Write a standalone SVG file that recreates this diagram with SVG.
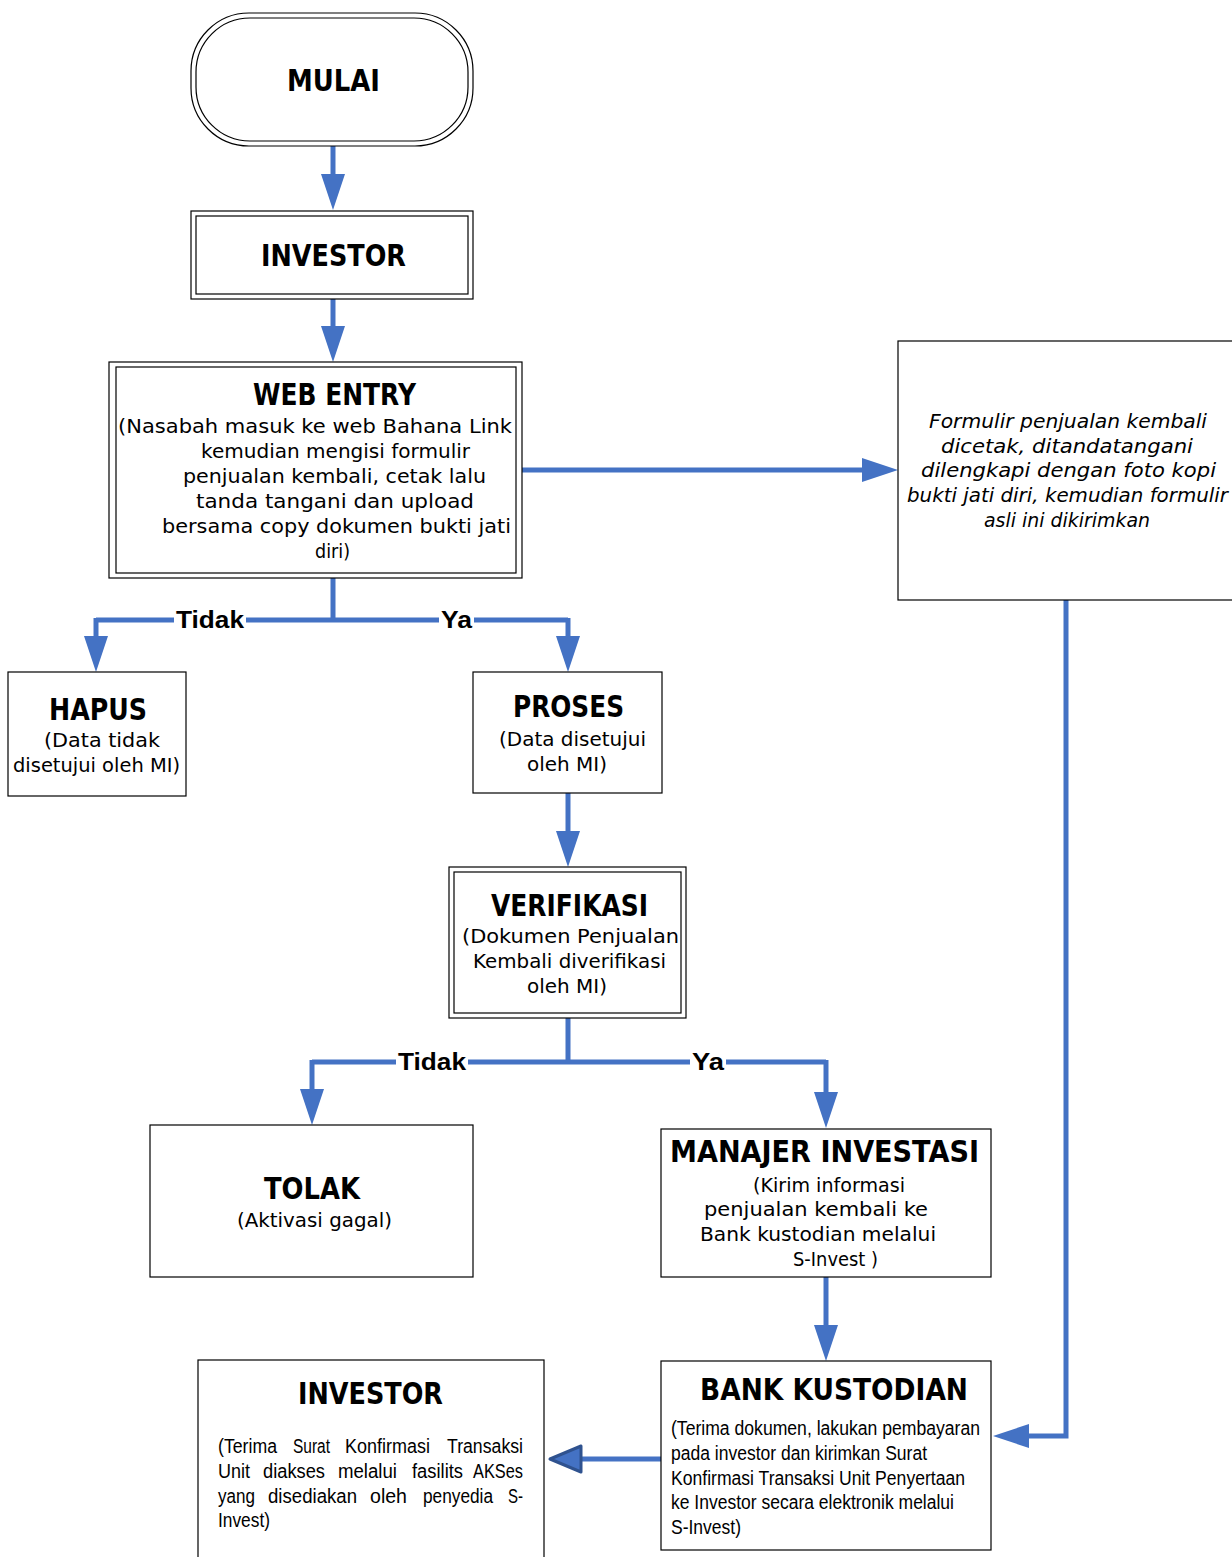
<svg xmlns="http://www.w3.org/2000/svg" width="1232" height="1557" viewBox="0 0 1232 1557">
<style>
.box{fill:#fff;stroke:#000;stroke-width:1.2}
.t{font-family:"DejaVu Sans","Liberation Sans",sans-serif;font-weight:bold;font-size:31px;fill:#000}
.b{font-family:"DejaVu Sans","Liberation Sans",sans-serif;font-size:19px;fill:#000}
.i{font-family:"DejaVu Sans","Liberation Sans",sans-serif;font-size:19px;font-style:italic;fill:#000}
.a{font-family:"Liberation Sans",Arial,sans-serif;font-size:20px;fill:#000}
.lbl{font-family:"Liberation Sans",Arial,sans-serif;font-weight:bold;font-size:23px;fill:#000}
.c{fill:none;stroke:#4472C4;stroke-width:5}
</style>
<defs>
<marker id="ah" markerUnits="userSpaceOnUse" viewBox="0 0 36 24" markerWidth="36" markerHeight="24" refX="6" refY="12" orient="auto">
<path d="M0,0 L36,12 L0,24 z" fill="#4472C4"/>
</marker>
</defs>

<g id="connectors">
<path class="c" d="M333,146 V180" marker-end="url(#ah)"/>
<path class="c" d="M333,299 V332" marker-end="url(#ah)"/>
<path class="c" d="M522,470 H868" marker-end="url(#ah)"/>
<path class="c" d="M333,578 V620 M96,620 H568"/>
<path class="c" d="M96,618 V642" marker-end="url(#ah)"/>
<path class="c" d="M568,618 V642" marker-end="url(#ah)"/>
<path class="c" d="M568,793 V837" marker-end="url(#ah)"/>
<path class="c" d="M568,1018 V1062 M312,1062 H826"/>
<path class="c" d="M312,1060 V1095" marker-end="url(#ah)"/>
<path class="c" d="M826,1060 V1098" marker-end="url(#ah)"/>
<path class="c" d="M826,1277 V1331" marker-end="url(#ah)"/>
<path class="c" d="M1066,600 V1436 H1023" marker-end="url(#ah)"/>
<path class="c" d="M661,1459 H580"/>
<polygon points="550,1459 581,1446 581,1472" fill="#4472C4" stroke="#2F528F" stroke-width="3" stroke-linejoin="round"/>
<rect x="174" y="607" width="72" height="26" fill="#fff"/>
<text class="lbl" x="176" y="628" textLength="68" lengthAdjust="spacingAndGlyphs">Tidak</text>
<rect x="439" y="607" width="35" height="26" fill="#fff"/>
<text class="lbl" x="441" y="628" textLength="31" lengthAdjust="spacingAndGlyphs">Ya</text>
<rect x="396" y="1049" width="72" height="26" fill="#fff"/>
<text class="lbl" x="398" y="1070" textLength="68" lengthAdjust="spacingAndGlyphs">Tidak</text>
<rect x="690" y="1049" width="36" height="26" fill="#fff"/>
<text class="lbl" x="692" y="1070" textLength="32" lengthAdjust="spacingAndGlyphs">Ya</text>
</g>

<g id="mulai">
<rect class="box" x="191" y="13" width="282" height="133" rx="58"/>
<rect class="box" x="196" y="18" width="272" height="123" rx="54"/>
<text class="t" x="287" y="91" textLength="93" lengthAdjust="spacingAndGlyphs">MULAI</text>
</g>

<g id="investor1">
<rect class="box" x="191" y="211" width="282" height="88"/>
<rect class="box" x="196" y="216" width="272" height="78"/>
<text class="t" x="261" y="266" textLength="145" lengthAdjust="spacingAndGlyphs">INVESTOR</text>
</g>

<g id="webentry">
<rect class="box" x="109" y="362" width="413" height="216"/>
<rect class="box" x="116" y="367" width="400" height="206"/>
<text class="t" x="253" y="405" textLength="163" lengthAdjust="spacingAndGlyphs">WEB ENTRY</text>
<text class="b" x="118" y="433" textLength="394" lengthAdjust="spacingAndGlyphs">(Nasabah masuk ke web Bahana  Link</text>
<text class="b" x="201" y="458" textLength="269" lengthAdjust="spacingAndGlyphs">kemudian mengisi formulir</text>
<text class="b" x="183" y="483" textLength="303" lengthAdjust="spacingAndGlyphs">penjualan kembali, cetak lalu</text>
<text class="b" x="196" y="508" textLength="278" lengthAdjust="spacingAndGlyphs">tanda tangani dan upload</text>
<text class="b" x="162" y="533" textLength="349" lengthAdjust="spacingAndGlyphs">bersama copy dokumen bukti jati</text>
<text class="b" x="315" y="558" textLength="35" lengthAdjust="spacingAndGlyphs">diri)</text>
</g>

<g id="formulir">
<rect class="box" x="898" y="341" width="345" height="259"/>
<text class="i" x="929" y="428" textLength="278" lengthAdjust="spacingAndGlyphs">Formulir penjualan kembali</text>
<text class="i" x="941" y="453" textLength="252" lengthAdjust="spacingAndGlyphs">dicetak, ditandatangani</text>
<text class="i" x="921" y="477" textLength="295" lengthAdjust="spacingAndGlyphs">dilengkapi dengan foto kopi</text>
<text class="i" x="907" y="502" textLength="321" lengthAdjust="spacingAndGlyphs">bukti jati diri,  kemudian formulir</text>
<text class="i" x="984" y="527" textLength="166" lengthAdjust="spacingAndGlyphs">asli ini dikirimkan</text>
</g>

<g id="hapus">
<rect class="box" x="8" y="672" width="178" height="124"/>
<text class="t" x="49" y="720" textLength="98" lengthAdjust="spacingAndGlyphs">HAPUS</text>
<text class="b" x="44" y="747" textLength="116" lengthAdjust="spacingAndGlyphs">(Data tidak</text>
<text class="b" x="13" y="772" textLength="167" lengthAdjust="spacingAndGlyphs">disetujui oleh MI)</text>
</g>

<g id="proses">
<rect class="box" x="473" y="672" width="189" height="121"/>
<text class="t" x="513" y="717" textLength="111" lengthAdjust="spacingAndGlyphs">PROSES</text>
<text class="b" x="499" y="746" textLength="147" lengthAdjust="spacingAndGlyphs">(Data disetujui</text>
<text class="b" x="527" y="771" textLength="80" lengthAdjust="spacingAndGlyphs">oleh MI)</text>
</g>

<g id="verifikasi">
<rect class="box" x="449" y="867" width="237" height="151"/>
<rect class="box" x="454" y="872" width="227" height="141"/>
<text class="t" x="491" y="916" textLength="157" lengthAdjust="spacingAndGlyphs">VERIFIKASI</text>
<text class="b" x="462" y="943" textLength="217" lengthAdjust="spacingAndGlyphs">(Dokumen Penjualan</text>
<text class="b" x="473" y="968" textLength="193" lengthAdjust="spacingAndGlyphs">Kembali diverifikasi</text>
<text class="b" x="527" y="993" textLength="80" lengthAdjust="spacingAndGlyphs">oleh MI)</text>
</g>

<g id="tolak">
<rect class="box" x="150" y="1125" width="323" height="152"/>
<text class="t" x="264" y="1199" textLength="96" lengthAdjust="spacingAndGlyphs">TOLAK</text>
<text class="b" x="237" y="1227" textLength="155" lengthAdjust="spacingAndGlyphs">(Aktivasi gagal)</text>
</g>

<g id="manajer">
<rect class="box" x="661" y="1129" width="330" height="148"/>
<text class="t" x="670" y="1162" textLength="309" lengthAdjust="spacingAndGlyphs">MANAJER INVESTASI</text>
<text class="b" x="753" y="1192" textLength="152" lengthAdjust="spacingAndGlyphs">(Kirim informasi</text>
<text class="b" x="704" y="1216" textLength="224" lengthAdjust="spacingAndGlyphs">penjualan kembali ke</text>
<text class="b" x="700" y="1241" textLength="236" lengthAdjust="spacingAndGlyphs">Bank kustodian melalui</text>
<text class="b" x="793" y="1266" textLength="85" lengthAdjust="spacingAndGlyphs">S-Invest )</text>
</g>

<g id="bank">
<rect class="box" x="661" y="1361" width="330" height="189"/>
<text class="t" x="700" y="1400" textLength="268" lengthAdjust="spacingAndGlyphs">BANK KUSTODIAN</text>
<text class="a" x="671" y="1435" textLength="309" lengthAdjust="spacingAndGlyphs">(Terima dokumen, lakukan pembayaran</text>
<text class="a" x="671" y="1460" textLength="256" lengthAdjust="spacingAndGlyphs">pada investor dan kirimkan Surat</text>
<text class="a" x="671" y="1485" textLength="294" lengthAdjust="spacingAndGlyphs">Konfirmasi Transaksi Unit Penyertaan</text>
<text class="a" x="671" y="1509" textLength="283" lengthAdjust="spacingAndGlyphs">ke Investor secara elektronik melalui</text>
<text class="a" x="671" y="1534" textLength="70" lengthAdjust="spacingAndGlyphs">S-Invest)</text>
</g>

<g id="investor2">
<rect class="box" x="198" y="1360" width="346" height="215"/>
<text class="t" x="298" y="1404" textLength="145" lengthAdjust="spacingAndGlyphs">INVESTOR</text>
<text class="a" x="218" y="1453" textLength="59" lengthAdjust="spacingAndGlyphs">(Terima</text>
<text class="a" x="293" y="1453" textLength="37" lengthAdjust="spacingAndGlyphs">Surat</text>
<text class="a" x="345" y="1453" textLength="85" lengthAdjust="spacingAndGlyphs">Konfirmasi</text>
<text class="a" x="447" y="1453" textLength="76" lengthAdjust="spacingAndGlyphs">Transaksi</text>
<text class="a" x="218" y="1478" textLength="32" lengthAdjust="spacingAndGlyphs">Unit</text>
<text class="a" x="263" y="1478" textLength="62" lengthAdjust="spacingAndGlyphs">diakses</text>
<text class="a" x="338" y="1478" textLength="59" lengthAdjust="spacingAndGlyphs">melalui</text>
<text class="a" x="412" y="1478" textLength="51" lengthAdjust="spacingAndGlyphs">fasilits</text>
<text class="a" x="473" y="1478" textLength="50" lengthAdjust="spacingAndGlyphs">AKSes</text>
<text class="a" x="218" y="1503" textLength="37" lengthAdjust="spacingAndGlyphs">yang</text>
<text class="a" x="268" y="1503" textLength="89" lengthAdjust="spacingAndGlyphs">disediakan</text>
<text class="a" x="370" y="1503" textLength="37" lengthAdjust="spacingAndGlyphs">oleh</text>
<text class="a" x="423" y="1503" textLength="70" lengthAdjust="spacingAndGlyphs">penyedia</text>
<text class="a" x="508" y="1503" textLength="15" lengthAdjust="spacingAndGlyphs">S-</text>
<text class="a" x="218" y="1527" textLength="52" lengthAdjust="spacingAndGlyphs">Invest)</text>
</g>
</svg>
